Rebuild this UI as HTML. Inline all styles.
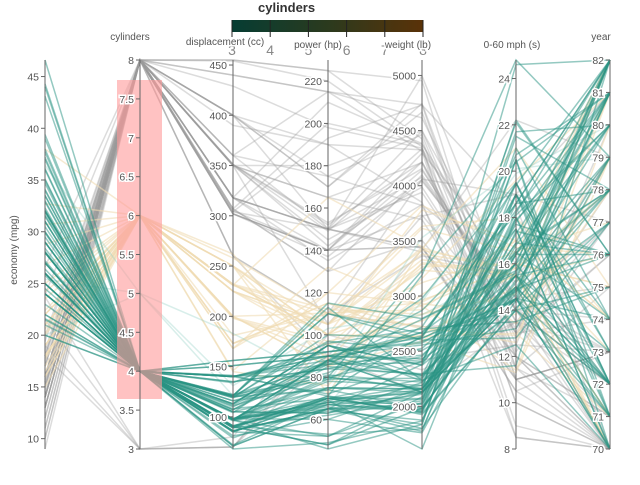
<!DOCTYPE html>
<html><head><meta charset="utf-8"><style>
body{margin:0;background:#fff;}
svg{font-family:"Liberation Sans",sans-serif;}
.tk{font-size:10.5px;fill:#555;}
.ttl{font-size:10px;fill:#555;stroke:#fff;stroke-width:3px;paint-order:stroke;}
</style></head><body>
<svg id="chart" width="640" height="480">
<g id="lines"></g>
<rect x="117" y="80" width="45" height="319" fill="#ff9a9a" opacity="0.6"/>
<g id="axes"></g>
<g>
<defs><linearGradient id="cg" x1="0" x2="1"><stop offset="0" stop-color="#063d33"/><stop offset="0.5" stop-color="#2b3a1e"/><stop offset="1" stop-color="#5a3208"/></linearGradient></defs>
<text x="258" y="12" font-size="13" font-weight="bold" fill="#333">cylinders</text>
<rect x="232" y="20" width="191" height="12" fill="url(#cg)"/>
<g id="legticks"></g>
</g>
<text x="17" y="250" class="ttl" text-anchor="middle" transform="rotate(-90 17 250)">economy (mpg)</text>
<text x="130" y="40" class="ttl" text-anchor="middle">cylinders</text>
<text x="225" y="45" class="ttl" text-anchor="middle">displacement (cc)</text>
<text x="318" y="48" class="ttl" text-anchor="middle">power (hp)</text>
<text x="408" y="48" class="ttl" text-anchor="middle">weight (lb)</text>
<text x="512" y="48" class="ttl" text-anchor="middle">0-60 mph (s)</text>
<text x="601" y="40" class="ttl" text-anchor="middle">year</text>
</svg>
<script>
const dims=["economy","cylinders","displacement","power","weight","accel","year"];
const axisX=[45,140,233,328,422,516,610];
const axisRanges=[[9.0,46.6],[3,8],[68,455],[46,230],[1613,5140],[8,24.8],[70,82]];
const tickLists=[[10,15,20,25,30,35,40,45],[3,3.5,4,4.5,5,5.5,6,6.5,7,7.5,8],[100,150,200,250,300,350,400,450],[60,80,100,120,140,160,180,200,220],[2000,2500,3000,3500,4000,4500,5000],[8,10,12,14,16,18,20,22,24],[70,71,72,73,74,75,76,77,78,79,80,81,82]];
const legendTicks=[3,4,5,6,7,8];
// mpg,cyl,disp,hp,weight,accel,year
const cars=[
[18,8,307,130,3504,12,70],[15,8,350,165,3693,11.5,70],[18,8,318,150,3436,11,70],[16,8,304,150,3433,12,70],[17,8,302,140,3449,10.5,70],[15,8,429,198,4341,10,70],[14,8,454,220,4354,9,70],[14,8,440,215,4312,8.5,70],[14,8,455,225,4425,10,70],[15,8,390,190,3850,8.5,70],
[24,4,113,95,2372,15,70],[22,6,198,95,2833,15.5,70],[18,6,199,97,2774,15.5,70],[21,6,200,85,2587,16,70],[27,4,97,88,2130,14.5,70],[26,4,97,46,1835,20.5,70],[25,4,110,87,2672,17.5,70],[24,4,107,90,2430,14.5,70],[25,4,104,95,2375,17.5,70],[26,4,121,113,2234,12.5,70],
[21,6,199,90,2648,15,70],[10,8,360,215,4615,14,70],[10,8,307,200,4376,15,70],[11,8,318,210,4382,13.5,70],[9,8,304,193,4732,18.5,70],[27,4,97,88,2130,14.5,71],[28,4,140,90,2264,15.5,71],[25,4,113,95,2228,14,71],[19,6,232,100,2634,13,71],[16,6,225,105,3439,15.5,71],
[17,6,250,100,3329,15.5,71],[19,6,250,88,3302,15.5,71],[18,6,232,100,3288,15.5,71],[14,8,350,165,4209,12,71],[14,8,400,175,4464,11.5,71],[14,8,351,153,4154,13.5,71],[35,4,72,69,1613,18,71],[31,4,71,65,1773,19,71],[13,8,400,170,4746,12,71],[28,4,98,80,2164,15,72],
[25,4,97,85,2288,15,72],[22,4,140,72,2408,19,72],[13,8,302,140,4294,16,72],[19,3,70,97,2330,13.5,72],[23,4,120,97,2506,14.5,72],[24,4,121,110,2660,14,72],[11,8,400,150,4997,14,73],[12,8,350,180,4499,12.5,73],[13,8,440,215,4735,11,73],[12,8,455,225,4951,11,73],
[13,8,360,175,3821,11,73],[15,8,318,150,3399,11,73],[18,3,70,90,2124,13.5,73],[20,4,97,88,2279,19,73],[29,4,68,49,1867,19.5,73],[24,4,116,75,2158,15.5,73],[18,6,225,105,3121,16.5,73],[31,4,79,67,1950,19,74],[32,4,71,65,1836,21,74],[26,4,122,80,2451,16.5,74],
[18,6,258,110,3632,18,74],[16,8,302,140,4141,14,74],[25,4,116,81,2220,16.9,76],[20,6,232,100,2914,16,75],[16,8,318,150,4498,14.5,75],[15,6,250,72,3432,21,75],[29,4,90,70,1937,14,75],[24,4,134,96,2702,13.5,75],[19,6,225,95,3264,16,75],[13,8,350,145,3988,13,74],
[33,4,91,53,1795,17.4,76],[28,4,97,75,2155,16.4,76],[17.5,8,305,140,4215,13,76],[16.5,6,168,120,3820,16.7,76],[28,4,107,86,2464,15.5,76],[30,4,111,80,2155,14.8,77],[21.5,3,80,110,2720,13.5,77],[30.5,4,97,78,2190,14.1,77],[17,8,260,110,4060,19,77],[15.5,8,400,190,4325,12.2,77],
[20,5,131,103,2830,15.9,78],[43.1,4,90,48,1985,21.5,78],[36.1,4,98,66,1800,14.4,78],[20.2,6,200,85,2965,15.8,78],[19.4,8,318,140,3735,13.2,78],[30,4,98,68,2155,16.5,78],[39.4,4,85,70,2070,18.6,78],[25.4,5,183,77,3530,20.1,79],[31.9,4,89,71,1925,14,79],[27.2,4,141,71,3190,24.8,79],
[23.9,8,260,90,3420,22.2,79],[34.1,4,86,65,1975,15.2,79],[18.5,8,360,150,3940,13,79],[36.4,5,121,67,2950,19.9,80],[44.3,4,90,48,2085,21.7,80],[46.6,4,86,65,2110,17.9,80],[23.7,3,70,100,2420,12.5,80],[32.7,6,168,132,2910,11.4,80],[33.5,4,85,70,1945,16.8,80],[26.6,8,350,105,3725,19,81],
[37.7,4,89,62,2050,17.3,81],[34.7,4,105,63,2215,14.9,81],[24.2,6,146,120,2930,13.8,81],[22.4,6,231,110,3415,15.8,81],[38,6,262,85,3015,17,82],[44,4,97,52,2130,24.6,82],[32,4,135,84,2295,11.6,82],[28,4,120,79,2625,18.6,82],[31,4,119,82,2720,19.4,82],[22,6,232,112,2835,14.7,82],
[34,4,108,70,2245,16.9,82],[37,4,91,68,2025,18.2,82],[29,4,135,84,2525,16,82],[27,4,112,88,2640,18.6,82],[26,4,156,92,2585,14.5,82],[36,4,105,74,1980,15.3,82],[25,6,181,110,2945,16.4,82],[38,4,105,63,2125,14.7,82],[27,4,140,86,2790,15.6,82],[32,4,91,67,1965,15.7,82],
[26,4,91,70,1955,20.5,71],[24,4,113,95,2278,15.5,72],[21,4,120,87,2979,19.5,72],[20,4,140,90,2408,19.5,72],[26,4,96,69,2189,18,72],[22,4,122,86,2395,16,72],[16,6,250,100,3781,17,74],[21,6,200,,2875,17,74],
[26,4,98,79,2255,17.7,76],[25,4,140,92,2572,14.9,76],[29,4,85,52,2035,22.2,76],[24.5,4,98,60,2164,22.1,76],[22,6,225,100,3233,15.4,76],[18,6,250,105,3613,16.5,77],[21.5,4,121,110,2600,12.8,77],[19.9,8,260,110,3365,15.5,78],
[31.5,4,89,71,1990,14.9,78],[29.5,4,98,68,2135,16.6,78],[21.6,4,121,115,2795,15.7,78],[20.6,6,231,105,3380,15.8,78],[17.7,6,231,165,3445,13.4,78],[28.4,4,151,90,2670,16,79],[28.8,6,173,115,2595,11.3,79],[26.8,6,173,115,2700,12.9,79],
[33.5,4,151,90,2556,13.2,79],[15.5,8,351,142,4054,14.3,79],[32.1,4,98,70,2120,15.5,80],[37.2,4,86,65,2019,16.4,80],[28,4,90,75,2125,14.5,74],[26.4,4,140,88,2870,18.1,80],[29.9,4,98,65,2380,20.7,81],[32.9,4,119,100,2615,14.8,81],
[31.6,4,120,74,2635,18.3,81],[28.1,4,141,80,3230,20.4,81],[30.7,6,145,76,3160,19.6,81],[25.8,4,156,92,2620,14.4,81],[23.5,6,173,110,2725,12.6,81],[39,4,86,64,1875,16.4,81],[35.1,4,81,60,1760,16.1,81],[32.3,4,97,67,2065,17.8,81],
[17,8,302,140,3449,10.5,73],[13,8,307,130,4098,14,72],[14,8,318,150,4077,14,72],[14,8,302,137,4042,14.5,73],[16,8,400,170,4668,11.5,75],[14.5,8,351,152,4215,12.8,76],[16,8,351,149,4335,14.5,77],[18,8,318,135,3830,15.2,79]
];
const NS="http://www.w3.org/2000/svg";
const top_=60,bot=449;
function yScale(i,v){const r=axisRanges[i];return bot-(v-r[0])/(r[1]-r[0])*(bot-top_);}
function colorOf(c){if(c===4)return["#2a9484",0.5];if(c===5)return["#8fcfc4",0.35];if(c===6)return["#f0dcb4",0.6];return["#9a9a9a",0.35];}
const lg=document.getElementById('lines');
const valid=cars.filter(d=>d.length===7&&d.every(v=>v!==undefined&&v!==null&&!isNaN(v)));
const order=valid.slice().sort((a,b)=>{const r=c=>c===4?3:c===5?2:c===6?1:0;return r(a[1])-r(b[1]);});
order.forEach(d=>{
 const p=document.createElementNS(NS,'polyline');
 p.setAttribute('points',d.map((v,i)=>axisX[i]+','+yScale(i,v).toFixed(1)).join(' '));
 const c=colorOf(d[1]);
 p.setAttribute('fill','none');p.setAttribute('stroke',c[0]);p.setAttribute('stroke-opacity',c[1]);p.setAttribute('stroke-width','1.5');
 
 
 lg.appendChild(p);
});
const ag=document.getElementById('axes');
dims.forEach((dname,i)=>{
 const g=document.createElementNS(NS,'g');
 
 
 const l=document.createElementNS(NS,'line');
 l.setAttribute('x1',axisX[i]);l.setAttribute('x2',axisX[i]);l.setAttribute('y1',top_);l.setAttribute('y2',bot);
 l.setAttribute('stroke','#666');l.setAttribute('stroke-width','1');
 g.appendChild(l);
 tickLists[i].forEach(t=>{
  const y=yScale(i,t);
  const tk=document.createElementNS(NS,'line');
  tk.setAttribute('x1',axisX[i]-4);tk.setAttribute('x2',axisX[i]);tk.setAttribute('y1',y);tk.setAttribute('y2',y);tk.setAttribute('stroke','#666');
  g.appendChild(tk);
  const tx=document.createElementNS(NS,'text');
  tx.setAttribute('x',axisX[i]-6);tx.setAttribute('y',y+4);tx.setAttribute('text-anchor','end');
  tx.setAttribute('class','tk');tx.setAttribute('stroke','#fff');tx.setAttribute('stroke-width','3');tx.setAttribute('paint-order','stroke');
  
  
  tx.textContent=t;
  g.appendChild(tx);
 });
 ag.appendChild(g);
});
const lt=document.getElementById('legticks');
legendTicks.forEach(t=>{
 const x=232+(t-3)/5*191;
 const l=document.createElementNS(NS,'line');
 l.setAttribute('x1',x);l.setAttribute('x2',x);l.setAttribute('y1',20);l.setAttribute('y2',37);l.setAttribute('stroke','#222');
 lt.appendChild(l);
 const tx=document.createElementNS(NS,'text');
 tx.setAttribute('x',x);tx.setAttribute('y',55);tx.setAttribute('text-anchor','middle');tx.setAttribute('font-size','14');tx.setAttribute('fill','#888');
 
 
 tx.textContent=t;
 lt.appendChild(tx);
});
</script>
</body></html>
